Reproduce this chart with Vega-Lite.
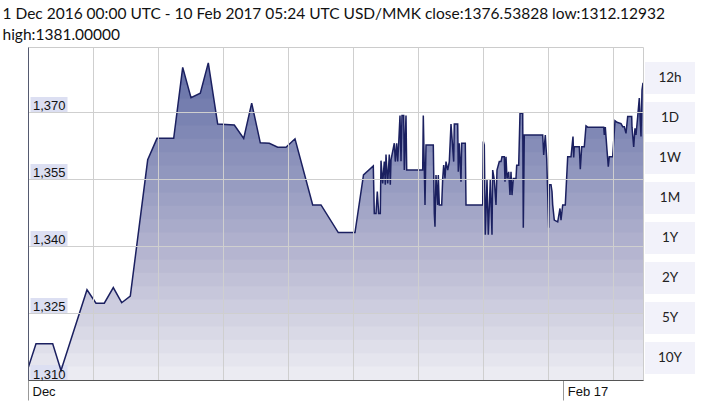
{
  "$schema": "https://vega.github.io/schema/vega-lite/v6.json",
  "padding": {"left": 2, "top": 6, "right": 0, "bottom": 0},
  "background": "white",
  "title": {
    "text": "1 Dec 2016 00:00 UTC - 10 Feb 2017 05:24 UTC   USD/MMK close:1376.53828 low:1312.12932",
    "subtitle": "high:1381.00000",
    "anchor": "start", "frame": "bounds",
    "font": "Lato", "fontSize": 15.5, "fontWeight": "normal", "color": "#111111",
    "subtitleFont": "Lato", "subtitleFontSize": 15.5, "subtitleColor": "#111111",
    "subtitlePadding": 6, "offset": 3
  },
  "config": {"view": {"stroke": "#cccccc"}},
  "spacing": 1,
  "datasets": {
    "rates": [
      {"t":"2016-12-01T00:00Z","v":1312.6},
      {"t":"2016-12-01T22:14Z","v":1318.1},
      {"t":"2016-12-03T20:39Z","v":1318.1},
      {"t":"2016-12-04T19:43Z","v":1312.13},
      {"t":"2016-12-07T20:00Z","v":1330.2},
      {"t":"2016-12-08T21:00Z","v":1327.2},
      {"t":"2016-12-09T20:05Z","v":1327.2},
      {"t":"2016-12-10T21:05Z","v":1330.7},
      {"t":"2016-12-11T20:26Z","v":1327.3},
      {"t":"2016-12-12T20:20Z","v":1328.8},
      {"t":"2016-12-14T20:43Z","v":1359.3},
      {"t":"2016-12-15T22:34Z","v":1364.1},
      {"t":"2016-12-17T20:58Z","v":1364.1},
      {"t":"2016-12-18T22:00Z","v":1380.0},
      {"t":"2016-12-19T21:04Z","v":1373.2},
      {"t":"2016-12-20T22:55Z","v":1374.2},
      {"t":"2016-12-21T21:08Z","v":1381.0},
      {"t":"2016-12-22T23:16Z","v":1367.3},
      {"t":"2016-12-24T21:25Z","v":1367.1},
      {"t":"2016-12-25T23:32Z","v":1364.1},
      {"t":"2016-12-26T21:46Z","v":1372.0},
      {"t":"2016-12-27T21:41Z","v":1363.1},
      {"t":"2016-12-28T22:41Z","v":1363.0},
      {"t":"2016-12-29T22:02Z","v":1362.1},
      {"t":"2016-12-30T21:07Z","v":1362.1},
      {"t":"2016-12-31T22:08Z","v":1364.0},
      {"t":"2017-01-02T23:19Z","v":1349.2},
      {"t":"2017-01-03T22:23Z","v":1349.2},
      {"t":"2017-01-05T22:29Z","v":1343.0},
      {"t":"2017-01-07T20:54Z","v":1343.0},
      {"t":"2017-01-08T20:31Z","v":1355.9},
      {"t":"2017-01-09T23:46Z","v":1357.9},
      {"t":"2017-01-10T02:32Z","v":1347.3},
      {"t":"2017-01-10T07:16Z","v":1347.3},
      {"t":"2017-01-10T10:53Z","v":1352.2},
      {"t":"2017-01-10T14:46Z","v":1347.3},
      {"t":"2017-01-10T19:13Z","v":1347.3},
      {"t":"2017-01-10T21:10Z","v":1359.1},
      {"t":"2017-01-11T01:53Z","v":1354.0},
      {"t":"2017-01-11T06:20Z","v":1358.9},
      {"t":"2017-01-11T09:07Z","v":1353.7},
      {"t":"2017-01-11T11:04Z","v":1360.5},
      {"t":"2017-01-11T15:47Z","v":1354.0},
      {"t":"2017-01-11T20:14Z","v":1360.5},
      {"t":"2017-01-11T23:01Z","v":1353.7},
      {"t":"2017-01-12T00:58Z","v":1359.3},
      {"t":"2017-01-12T10:08Z","v":1363.0},
      {"t":"2017-01-12T12:55Z","v":1358.9},
      {"t":"2017-01-12T16:48Z","v":1363.0},
      {"t":"2017-01-12T19:35Z","v":1358.9},
      {"t":"2017-01-12T22:22Z","v":1363.0},
      {"t":"2017-01-13T01:58Z","v":1369.2},
      {"t":"2017-01-13T04:45Z","v":1359.0},
      {"t":"2017-01-13T07:32Z","v":1369.2},
      {"t":"2017-01-13T12:16Z","v":1369.2},
      {"t":"2017-01-13T13:56Z","v":1357.0},
      {"t":"2017-01-13T18:39Z","v":1369.2},
      {"t":"2017-01-13T20:36Z","v":1357.0},
      {"t":"2017-01-15T17:04Z","v":1357.0},
      {"t":"2017-01-15T18:44Z","v":1369.2},
      {"t":"2017-01-15T23:28Z","v":1349.2},
      {"t":"2017-01-16T02:14Z","v":1362.6},
      {"t":"2017-01-16T22:32Z","v":1362.6},
      {"t":"2017-01-17T01:19Z","v":1347.3},
      {"t":"2017-01-17T03:15Z","v":1344.3},
      {"t":"2017-01-17T06:02Z","v":1355.9},
      {"t":"2017-01-17T10:46Z","v":1349.2},
      {"t":"2017-01-17T12:26Z","v":1355.9},
      {"t":"2017-01-17T15:13Z","v":1349.2},
      {"t":"2017-01-17T21:53Z","v":1349.2},
      {"t":"2017-01-18T00:40Z","v":1355.1},
      {"t":"2017-01-18T03:26Z","v":1358.1},
      {"t":"2017-01-18T07:03Z","v":1355.1},
      {"t":"2017-01-18T09:50Z","v":1358.9},
      {"t":"2017-01-18T14:34Z","v":1357.0},
      {"t":"2017-01-18T19:00Z","v":1358.9},
      {"t":"2017-01-18T23:44Z","v":1367.3},
      {"t":"2017-01-19T07:14Z","v":1358.9},
      {"t":"2017-01-19T08:54Z","v":1367.3},
      {"t":"2017-01-19T18:21Z","v":1367.3},
      {"t":"2017-01-19T20:01Z","v":1356.6},
      {"t":"2017-01-19T22:48Z","v":1363.0},
      {"t":"2017-01-20T03:31Z","v":1354.4},
      {"t":"2017-01-20T05:28Z","v":1363.0},
      {"t":"2017-01-20T15:29Z","v":1363.0},
      {"t":"2017-01-20T17:25Z","v":1349.2},
      {"t":"2017-01-22T15:50Z","v":1349.2},
      {"t":"2017-01-22T17:31Z","v":1363.4},
      {"t":"2017-01-22T20:17Z","v":1362.6},
      {"t":"2017-01-22T23:04Z","v":1342.5},
      {"t":"2017-01-23T03:47Z","v":1354.8},
      {"t":"2017-01-23T07:25Z","v":1342.5},
      {"t":"2017-01-23T12:58Z","v":1354.8},
      {"t":"2017-01-23T17:41Z","v":1342.5},
      {"t":"2017-01-23T19:38Z","v":1357.0},
      {"t":"2017-01-24T00:05Z","v":1354.8},
      {"t":"2017-01-24T04:49Z","v":1349.2},
      {"t":"2017-01-24T07:35Z","v":1357.0},
      {"t":"2017-01-24T13:59Z","v":1358.9},
      {"t":"2017-01-24T18:42Z","v":1358.9},
      {"t":"2017-01-24T21:29Z","v":1360.0},
      {"t":"2017-01-25T03:53Z","v":1360.0},
      {"t":"2017-01-25T05:49Z","v":1354.4},
      {"t":"2017-01-25T08:36Z","v":1360.0},
      {"t":"2017-01-25T11:23Z","v":1355.1},
      {"t":"2017-01-25T16:07Z","v":1356.6},
      {"t":"2017-01-25T19:43Z","v":1351.4},
      {"t":"2017-01-25T22:30Z","v":1356.6},
      {"t":"2017-01-26T01:17Z","v":1351.4},
      {"t":"2017-01-26T04:53Z","v":1355.1},
      {"t":"2017-01-26T12:24Z","v":1355.1},
      {"t":"2017-01-26T14:20Z","v":1358.1},
      {"t":"2017-01-26T19:54Z","v":1358.1},
      {"t":"2017-01-26T23:31Z","v":1369.7},
      {"t":"2017-01-27T07:01Z","v":1369.7},
      {"t":"2017-01-27T08:41Z","v":1344.1},
      {"t":"2017-01-27T11:28Z","v":1364.85},
      {"t":"2017-01-29T14:37Z","v":1364.85},
      {"t":"2017-01-29T17:23Z","v":1360.4},
      {"t":"2017-01-29T21:50Z","v":1364.85},
      {"t":"2017-01-30T01:44Z","v":1359.6},
      {"t":"2017-01-30T07:17Z","v":1344.1},
      {"t":"2017-01-30T08:57Z","v":1353.7},
      {"t":"2017-01-30T13:41Z","v":1353.7},
      {"t":"2017-01-30T16:28Z","v":1352.2},
      {"t":"2017-01-30T18:24Z","v":1349.2},
      {"t":"2017-01-30T22:51Z","v":1345.8},
      {"t":"2017-01-31T08:18Z","v":1345.4},
      {"t":"2017-01-31T14:41Z","v":1348.4},
      {"t":"2017-01-31T17:28Z","v":1345.8},
      {"t":"2017-01-31T22:12Z","v":1349.2},
      {"t":"2017-02-01T05:25Z","v":1349.2},
      {"t":"2017-02-01T12:06Z","v":1360.0},
      {"t":"2017-02-01T21:16Z","v":1360.0},
      {"t":"2017-02-02T02:50Z","v":1364.5},
      {"t":"2017-02-02T04:47Z","v":1359.8},
      {"t":"2017-02-02T06:26Z","v":1362.2},
      {"t":"2017-02-02T20:20Z","v":1362.2},
      {"t":"2017-02-02T23:07Z","v":1357.2},
      {"t":"2017-02-03T03:01Z","v":1362.2},
      {"t":"2017-02-03T10:14Z","v":1362.2},
      {"t":"2017-02-03T14:58Z","v":1366.9},
      {"t":"2017-02-03T19:41Z","v":1366.6},
      {"t":"2017-02-05T16:10Z","v":1366.6},
      {"t":"2017-02-05T17:50Z","v":1364.85},
      {"t":"2017-02-05T20:37Z","v":1366.6},
      {"t":"2017-02-06T01:20Z","v":1361.5},
      {"t":"2017-02-06T04:56Z","v":1357.75},
      {"t":"2017-02-06T07:43Z","v":1360.0},
      {"t":"2017-02-06T17:10Z","v":1360.0},
      {"t":"2017-02-06T23:34Z","v":1368.05},
      {"t":"2017-02-07T05:08Z","v":1367.7},
      {"t":"2017-02-07T16:14Z","v":1367.4},
      {"t":"2017-02-07T20:58Z","v":1366.7},
      {"t":"2017-02-08T01:25Z","v":1366.7},
      {"t":"2017-02-08T06:08Z","v":1365.2},
      {"t":"2017-02-08T10:52Z","v":1369.0},
      {"t":"2017-02-08T21:59Z","v":1369.0},
      {"t":"2017-02-08T22:49Z","v":1366.6},
      {"t":"2017-02-09T03:32Z","v":1362.2},
      {"t":"2017-02-09T07:10Z","v":1366.35},
      {"t":"2017-02-09T09:56Z","v":1364.85},
      {"t":"2017-02-09T14:40Z","v":1369.0},
      {"t":"2017-02-09T19:07Z","v":1373.1},
      {"t":"2017-02-09T23:50Z","v":1364.5},
      {"t":"2017-02-10T02:37Z","v":1374.9},
      {"t":"2017-02-10T05:24Z","v":1376.54}
    ],
    "ticks": [{"tick": 1310}, {"tick": 1325}, {"tick": 1340}, {"tick": 1355}, {"tick": 1370}],
    "buttons": [{"b": "12h"}, {"b": "1D"}, {"b": "1W"}, {"b": "1M"}, {"b": "1Y"}, {"b": "2Y"}, {"b": "5Y"}, {"b": "10Y"}]
  },
  "hconcat": [
    {
      "width": 615,
      "height": 333,
      "layer": [
        {
          "data": {"name": "rates"},
          "mark": {"type": "area", "clip": true, "opacity": 1, "color": "#646ea6"},
          "encoding": {
            "x": {
              "field": "t", "type": "temporal", "title": null,
              "scale": {"type": "utc", "domain": [1480550400000, 1486704240000]},
              "axis": {
                "values": [1480550400000, 1481200800000, 1481851200000, 1482501600000, 1483152000000, 1483802400000, 1484452800000, 1485103200000, 1485753600000, 1485907200000, 1486404000000],
                "labelExpr": "time(datum.value) == 1480550400000 ? 'Dec' : (time(datum.value) == 1485907200000 ? 'Feb 17' : '')",
                "grid": true,
                "gridColor": {"condition": {"test": "time(datum.value) == 1485907200000", "value": "transparent"}, "value": "#cfcfcf"},
                "tickSize": 20,
                "tickColor": "#999999",
                "tickOpacity": {"condition": {"test": "time(datum.value) == 1480550400000 || time(datum.value) == 1485907200000", "value": 1}, "value": 0},
                "labelAlign": "left", "labelBaseline": "alphabetic", "labelPadding": -5, "labelOffset": 4,
                "labelFont": "Liberation Sans", "labelFontSize": 13, "labelColor": "#111111",
                "labelFlush": false, "labelOverlap": false,
                "domainColor": "#555555", "zindex": 1
              }
            },
            "y": {
              "field": "v", "type": "quantitative", "title": null,
              "scale": {"domain": [1310, 1384.55], "zero": false, "nice": false},
              "axis": {
                "values": [1310, 1325, 1340, 1355, 1370],
                "format": ",d",
                "labelAlign": "left", "labelBaseline": "alphabetic", "labelPadding": -4.5, "labelOffset": -2,
                "ticks": false, "tickSize": 0,
                "minExtent": 25, "maxExtent": 25,
                "grid": true, "gridColor": "#cfcfcf",
                "domainColor": "#555a70",
                "labelFont": "Liberation Sans", "labelFontSize": 13, "labelColor": "#111111",
                "zindex": 1
              }
            }
          }
        },
        {"data": {"values": [{}]}, "mark": {"type": "rect", "color": "white", "opacity": 0.044}, "encoding": {"x": {"datum": 1480550400000, "type": "temporal"}, "x2": {"datum": 1486704240000}, "y": {"datum": 1310, "type": "quantitative"}, "y2": {"datum": 1379}}},
        {"data": {"values": [{}]}, "mark": {"type": "rect", "color": "white", "opacity": 0.0399}, "encoding": {"x": {"datum": 1480550400000, "type": "temporal"}, "x2": {"datum": 1486704240000}, "y": {"datum": 1310, "type": "quantitative"}, "y2": {"datum": 1376}}},
        {"data": {"values": [{}]}, "mark": {"type": "rect", "color": "white", "opacity": 0.0414}, "encoding": {"x": {"datum": 1480550400000, "type": "temporal"}, "x2": {"datum": 1486704240000}, "y": {"datum": 1310, "type": "quantitative"}, "y2": {"datum": 1373}}},
        {"data": {"values": [{}]}, "mark": {"type": "rect", "color": "white", "opacity": 0.0432}, "encoding": {"x": {"datum": 1480550400000, "type": "temporal"}, "x2": {"datum": 1486704240000}, "y": {"datum": 1310, "type": "quantitative"}, "y2": {"datum": 1370}}},
        {"data": {"values": [{}]}, "mark": {"type": "rect", "color": "white", "opacity": 0.0453}, "encoding": {"x": {"datum": 1480550400000, "type": "temporal"}, "x2": {"datum": 1486704240000}, "y": {"datum": 1310, "type": "quantitative"}, "y2": {"datum": 1367}}},
        {"data": {"values": [{}]}, "mark": {"type": "rect", "color": "white", "opacity": 0.0473}, "encoding": {"x": {"datum": 1480550400000, "type": "temporal"}, "x2": {"datum": 1486704240000}, "y": {"datum": 1310, "type": "quantitative"}, "y2": {"datum": 1364}}},
        {"data": {"values": [{}]}, "mark": {"type": "rect", "color": "white", "opacity": 0.0498}, "encoding": {"x": {"datum": 1480550400000, "type": "temporal"}, "x2": {"datum": 1486704240000}, "y": {"datum": 1310, "type": "quantitative"}, "y2": {"datum": 1361}}},
        {"data": {"values": [{}]}, "mark": {"type": "rect", "color": "white", "opacity": 0.0522}, "encoding": {"x": {"datum": 1480550400000, "type": "temporal"}, "x2": {"datum": 1486704240000}, "y": {"datum": 1310, "type": "quantitative"}, "y2": {"datum": 1358}}},
        {"data": {"values": [{}]}, "mark": {"type": "rect", "color": "white", "opacity": 0.0552}, "encoding": {"x": {"datum": 1480550400000, "type": "temporal"}, "x2": {"datum": 1486704240000}, "y": {"datum": 1310, "type": "quantitative"}, "y2": {"datum": 1355}}},
        {"data": {"values": [{}]}, "mark": {"type": "rect", "color": "white", "opacity": 0.0583}, "encoding": {"x": {"datum": 1480550400000, "type": "temporal"}, "x2": {"datum": 1486704240000}, "y": {"datum": 1310, "type": "quantitative"}, "y2": {"datum": 1352}}},
        {"data": {"values": [{}]}, "mark": {"type": "rect", "color": "white", "opacity": 0.0621}, "encoding": {"x": {"datum": 1480550400000, "type": "temporal"}, "x2": {"datum": 1486704240000}, "y": {"datum": 1310, "type": "quantitative"}, "y2": {"datum": 1349}}},
        {"data": {"values": [{}]}, "mark": {"type": "rect", "color": "white", "opacity": 0.066}, "encoding": {"x": {"datum": 1480550400000, "type": "temporal"}, "x2": {"datum": 1486704240000}, "y": {"datum": 1310, "type": "quantitative"}, "y2": {"datum": 1346}}},
        {"data": {"values": [{}]}, "mark": {"type": "rect", "color": "white", "opacity": 0.0707}, "encoding": {"x": {"datum": 1480550400000, "type": "temporal"}, "x2": {"datum": 1486704240000}, "y": {"datum": 1310, "type": "quantitative"}, "y2": {"datum": 1343}}},
        {"data": {"values": [{}]}, "mark": {"type": "rect", "color": "white", "opacity": 0.0763}, "encoding": {"x": {"datum": 1480550400000, "type": "temporal"}, "x2": {"datum": 1486704240000}, "y": {"datum": 1310, "type": "quantitative"}, "y2": {"datum": 1340}}},
        {"data": {"values": [{}]}, "mark": {"type": "rect", "color": "white", "opacity": 0.0824}, "encoding": {"x": {"datum": 1480550400000, "type": "temporal"}, "x2": {"datum": 1486704240000}, "y": {"datum": 1310, "type": "quantitative"}, "y2": {"datum": 1337}}},
        {"data": {"values": [{}]}, "mark": {"type": "rect", "color": "white", "opacity": 0.09}, "encoding": {"x": {"datum": 1480550400000, "type": "temporal"}, "x2": {"datum": 1486704240000}, "y": {"datum": 1310, "type": "quantitative"}, "y2": {"datum": 1334}}},
        {"data": {"values": [{}]}, "mark": {"type": "rect", "color": "white", "opacity": 0.0986}, "encoding": {"x": {"datum": 1480550400000, "type": "temporal"}, "x2": {"datum": 1486704240000}, "y": {"datum": 1310, "type": "quantitative"}, "y2": {"datum": 1331}}},
        {"data": {"values": [{}]}, "mark": {"type": "rect", "color": "white", "opacity": 0.1097}, "encoding": {"x": {"datum": 1480550400000, "type": "temporal"}, "x2": {"datum": 1486704240000}, "y": {"datum": 1310, "type": "quantitative"}, "y2": {"datum": 1328}}},
        {"data": {"values": [{}]}, "mark": {"type": "rect", "color": "white", "opacity": 0.1229}, "encoding": {"x": {"datum": 1480550400000, "type": "temporal"}, "x2": {"datum": 1486704240000}, "y": {"datum": 1310, "type": "quantitative"}, "y2": {"datum": 1325}}},
        {"data": {"values": [{}]}, "mark": {"type": "rect", "color": "white", "opacity": 0.1401}, "encoding": {"x": {"datum": 1480550400000, "type": "temporal"}, "x2": {"datum": 1486704240000}, "y": {"datum": 1310, "type": "quantitative"}, "y2": {"datum": 1322}}},
        {"data": {"values": [{}]}, "mark": {"type": "rect", "color": "white", "opacity": 0.1634}, "encoding": {"x": {"datum": 1480550400000, "type": "temporal"}, "x2": {"datum": 1486704240000}, "y": {"datum": 1310, "type": "quantitative"}, "y2": {"datum": 1319}}},
        {"data": {"values": [{}]}, "mark": {"type": "rect", "color": "white", "opacity": 0.1948}, "encoding": {"x": {"datum": 1480550400000, "type": "temporal"}, "x2": {"datum": 1486704240000}, "y": {"datum": 1310, "type": "quantitative"}, "y2": {"datum": 1316}}},
        {"data": {"values": [{}]}, "mark": {"type": "rect", "color": "white", "opacity": 0.2425}, "encoding": {"x": {"datum": 1480550400000, "type": "temporal"}, "x2": {"datum": 1486704240000}, "y": {"datum": 1310, "type": "quantitative"}, "y2": {"datum": 1313}}},
        {
          "data": {"name": "ticks"},
          "mark": {"type": "rect", "width": 37, "height": 15, "xOffset": 21, "yOffset": -7.5, "color": "#dcdff2"},
          "encoding": {
            "x": {"datum": 1480550400000, "type": "temporal", "title": null},
            "y": {"field": "tick", "type": "quantitative", "title": null}
          }
        },
        {
          "data": {"name": "rates"},
          "mark": {"type": "line", "clip": true, "color": "#1b2060", "strokeWidth": 1.5},
          "encoding": {
            "x": {"field": "t", "type": "temporal", "title": null},
            "y": {"field": "v", "type": "quantitative", "title": null}
          }
        }
      ]
    },
    {
      "width": 50,
      "height": 333,
      "view": {"stroke": null},
      "data": {"name": "buttons"},
      "encoding": {
        "y": {"field": "b", "type": "nominal", "sort": null, "axis": null,
              "scale": {"range": [11, 331], "paddingInner": 0.2, "paddingOuter": 0.1}}
      },
      "layer": [
        {
          "mark": {"type": "rect", "color": "#f2f2fa"},
          "encoding": {
            "x": {"datum": 0, "type": "quantitative", "scale": {"domain": [0, 1]}, "axis": null},
            "x2": {"datum": 1}
          }
        },
        {
          "mark": {"type": "text", "font": "Lato", "fontSize": 13.5, "color": "#222222"},
          "encoding": {
            "x": {"datum": 0.5, "type": "quantitative", "axis": null},
            "text": {"field": "b"}
          }
        }
      ]
    }
  ]
}
